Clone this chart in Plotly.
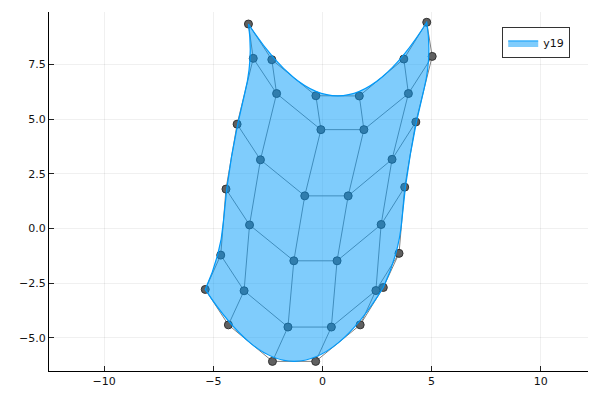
import plotly.graph_objects as go

# 6x6 control net (rows k = 0..5 from top, columns j = 0..5 from left)
grid_x = [
    [-3.39, -2.32, -0.30, 1.69, 3.73, 4.78],
    [-3.17, -2.10, -0.07, 1.90, 3.94, 5.03],
    [-3.91, -2.84, -0.81, 1.18, 3.19, 4.28],
    [-4.42, -3.34, -1.31, 0.67, 2.69, 3.77],
    [-4.66, -3.59, -1.58, 0.41, 2.45, 3.51],
    [-5.37, -4.31, -2.29, -0.31, 1.73, 2.79],
]
grid_y = [
    [9.35, 7.72, 6.07, 6.06, 7.75, 9.43],
    [7.78, 6.17, 4.52, 4.52, 6.17, 7.87],
    [4.77, 3.14, 1.49, 1.49, 3.16, 4.87],
    [1.80, 0.16, -1.48, -1.48, 0.18, 1.89],
    [-1.22, -2.85, -4.51, -4.51, -2.84, -1.14],
    [-2.79, -4.41, -6.08, -6.08, -4.41, -2.70],
]

x_ticks = [-10, -5, 0, 5, 10]
y_ticks = [-5.0, -2.5, 0.0, 2.5, 5.0, 7.5]
series_name = "y19"

n = len(grid_x)

# mesh lines (rows and columns of the net)
lx, ly = [], []
for k in range(n):
    lx += grid_x[k] + [None]
    ly += grid_y[k] + [None]
for j in range(n):
    lx += [grid_x[k][j] for k in range(n)] + [None]
    ly += [grid_y[k][j] for k in range(n)] + [None]

px = [v for row in grid_x for v in row]
py = [v for row in grid_y for v in row]

# boundary control polygons (clockwise)
top = [(grid_x[0][j], grid_y[0][j]) for j in range(n)]
right = [(grid_x[k][n - 1], grid_y[k][n - 1]) for k in range(n)]
bottom = [(grid_x[n - 1][j], grid_y[n - 1][j]) for j in range(n - 1, -1, -1)]
left = [(grid_x[k][0], grid_y[k][0]) for k in range(n - 1, -1, -1)]


def quad_path(ctrl, start=False):
    s = ""
    if start:
        s += f"M {ctrl[0][0]},{ctrl[0][1]} "
    m = len(ctrl)
    for i in range(1, m - 1):
        if i < m - 2:
            ex = (ctrl[i][0] + ctrl[i + 1][0]) / 2
            ey = (ctrl[i][1] + ctrl[i + 1][1]) / 2
        else:
            ex, ey = ctrl[i + 1]
        s += f"Q {ctrl[i][0]},{ctrl[i][1]} {ex},{ey} "
    return s


path = quad_path(top, True) + quad_path(right) + quad_path(bottom) + quad_path(left) + "Z"

fig = go.Figure()
fig.add_trace(go.Scatter(x=lx, y=ly, mode="lines",
                         line=dict(color="#808080", width=1),
                         showlegend=False, hoverinfo="skip"))
fig.add_trace(go.Scatter(x=px, y=py, mode="markers",
                         marker=dict(size=8, color="#606060",
                                     line=dict(color="#333333", width=1)),
                         showlegend=False))
fig.add_trace(go.Scatter(x=[None], y=[None], mode="lines", fill="toself",
                         fillcolor="rgba(0,154,250,0.5)",
                         line=dict(color="#009AFA", width=1),
                         name=series_name, showlegend=True))

fig.add_shape(type="path", path=path, xref="x", yref="y",
              fillcolor="rgba(0,154,250,0.5)",
              line=dict(color="#009AFA", width=1.2), layer="above")

axis_common = dict(showgrid=True, gridcolor="rgba(0,0,0,0.06)", gridwidth=1,
                   zeroline=False, showline=True, linecolor="black", linewidth=1,
                   ticks="inside", ticklen=5, tickcolor="#222", mirror=False,
                   tickfont=dict(family="DejaVu Sans", size=11, color="#111"))

fig.update_layout(
    width=600, height=400,
    margin=dict(l=49, r=12, t=12, b=29),
    paper_bgcolor="white", plot_bgcolor="white",
    xaxis=dict(range=[-12.53, 12.17], tickvals=x_ticks, **axis_common),
    yaxis=dict(range=[-6.52, 9.90], tickvals=y_ticks, tickformat=".1f", **axis_common),
    legend=dict(x=0.967, xanchor="right", y=0.957, yanchor="top",
                bgcolor="white", bordercolor="#333", borderwidth=1,
                font=dict(family="DejaVu Sans", size=11, color="#111")),
    showlegend=True,
)

fig.write_html("out.html", config={"displayModeBar": False},
               post_script="document.body.style.margin='0';document.body.style.padding='0';")
